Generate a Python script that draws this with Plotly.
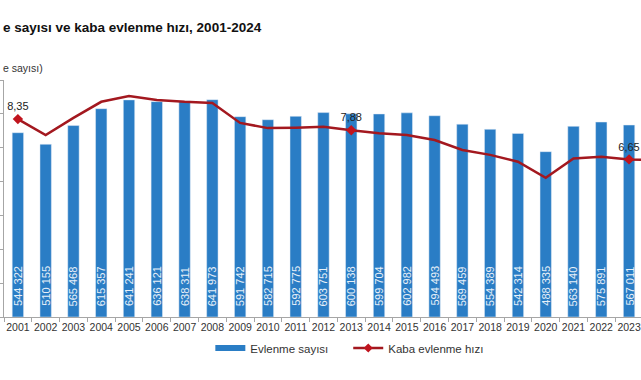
import plotly.graph_objects as go

years = [str(y) for y in range(2001, 2025)]
marriages = [544322, 510155, 565468, 615357, 641241, 636121, 638311, 641973,
             591742, 582715, 592775, 603751, 600138, 599704, 602982, 594493,
             569459, 554389, 542314, 488335, 563140, 575891, 567011, 568741]
rate = [8.35, 7.68, 8.40, 9.08, 9.32, 9.16, 9.08, 9.03, 8.19, 7.97, 7.99, 8.03,
        7.88, 7.75, 7.68, 7.47, 7.05, 6.84, 6.55, 5.87, 6.69, 6.76, 6.65, 6.62]
labelled_years = ["2001", "2013", "2023"]

# visible portion of the (cropped) title and axis caption
title_text = "e sayısı ve kaba evlenme hızı, 2001-2024"
yaxis_title = "e sayısı)"
bar_name = "Evlenme sayısı"
line_name = "Kaba evlenme hızı"

BAR = "#2A7DC5"
LINE = "#A3181F"
MARK = "#C0141E"
FONT = "Liberation Sans, Arial, sans-serif"

bar_text = [f"{v:,}".replace(",", " ") for v in marriages]

fig = go.Figure()
fig.add_trace(go.Bar(
    x=years, y=marriages, marker_color=BAR, showlegend=False,
    hoverinfo="skip",
))
fig.add_trace(go.Scatter(
    x=years, y=rate, yaxis="y2", mode="lines", showlegend=False,
    line=dict(color=LINE, width=2.5), cliponaxis=True,
))
lx = [y for y in years if y in labelled_years]
ly = [r for y, r in zip(years, rate) if y in labelled_years]
fig.add_trace(go.Scatter(
    x=lx, y=ly, yaxis="y2", mode="markers+text", showlegend=False,
    marker=dict(symbol="diamond", size=8, color=MARK),
    text=[f"{v:.2f}".replace(".", ",") for v in ly], textposition="top center",
    textfont=dict(size=11, color="#222222", family=FONT),
))
# legend entries
fig.add_trace(go.Scatter(x=[None], y=[None], mode="lines", name=bar_name,
                         line=dict(color=BAR, width=6), legend="legend"))
fig.add_trace(go.Scatter(x=[None], y=[None], mode="lines+markers", name=line_name,
                         line=dict(color=LINE, width=2.5),
                         marker=dict(symbol="diamond", size=7, color=MARK),
                         legend="legend2"))

L, T, B = 3.5, 80, 63
W, H = 641, 380
pw, ph = W - L, H - T - B

def px(xp):
    return (xp - L) / pw

def py(yp):
    return (H - B - yp) / ph

annotations = [
    dict(text="<b>" + title_text + "</b>", xref="paper", yref="paper",
         x=px(0), y=py(27), xanchor="left", yanchor="middle",
         showarrow=False, font=dict(size=13.5, color="#111111")),
    dict(text=yaxis_title, xref="paper", yref="paper",
         x=px(0), y=py(68), xanchor="left", yanchor="middle",
         showarrow=False, font=dict(size=10.5, color="#333333")),
]
for i, t in enumerate(bar_text):
    annotations.append(dict(
        text=t, x=i, y=0, xref="x", yref="y", textangle=-90,
        xanchor="center", yanchor="bottom", yshift=9, showarrow=False,
        font=dict(size=11, color="#E8F0F8", family=FONT),
    ))

legend_common = dict(orientation="h", yanchor="middle", y=py(348),
                     xanchor="left", font=dict(size=11.5, color="#333333"),
                     bgcolor="rgba(0,0,0,0)", itemwidth=30)

fig.update_layout(
    width=W, height=H, autosize=False,
    margin=dict(l=L, r=0, t=T, b=B, pad=0),
    paper_bgcolor="white", plot_bgcolor="white",
    font=dict(family=FONT, size=10, color="#333333"),
    bargap=0.59,
    xaxis=dict(type="category", range=[-0.5, 22.43], showgrid=False,
               showline=True, linecolor="#A6A6A6", linewidth=1,
               ticks="outside", tickson="boundaries", ticklen=4,
               tickcolor="#A6A6A6", tickangle=0,
               tickfont=dict(size=10.5, color="#333333"),
               automargin=False, fixedrange=True),
    yaxis=dict(range=[0, 700000], dtick=100000, showgrid=False, zeroline=False,
               showline=True, linecolor="#A6A6A6", linewidth=1,
               ticks="outside", ticklen=3, tickcolor="#A6A6A6",
               showticklabels=False, automargin=False),
    yaxis2=dict(range=[0, 10], overlaying="y", side="right", showgrid=False,
                zeroline=False, showline=False, showticklabels=False,
                automargin=False),
    legend=dict(x=px(210), **legend_common),
    legend2=dict(x=px(348), **legend_common),
    annotations=annotations,
)

fig.write_html("out.html", config={"displayModeBar": False},
               post_script="document.body.style.margin='0';document.body.style.overflow='hidden';")
